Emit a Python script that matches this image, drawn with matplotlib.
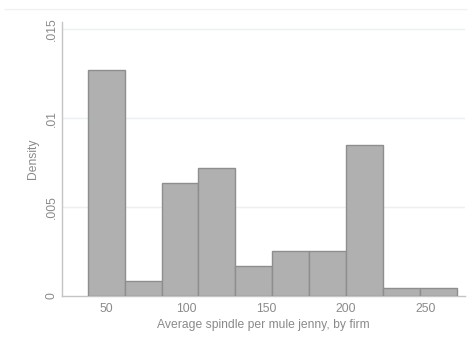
import matplotlib
matplotlib.use('Agg')
import matplotlib.pyplot as plt
import numpy as np

# histogram of firm averages: 10 bins, counts per bin
bin_start = 38.1
bin_width = 23.16
counts = [30, 2, 15, 17, 4, 6, 6, 20, 1, 1]
x_ticks = [50, 100, 150, 200, 250]
y_ticks = [0, 0.005, 0.01, 0.015]
y_tick_labels = ['0', '.005', '.01', '.015']

TEXT = '#8a8a8a'
AXIS = '#c4c4c4'
GRID = '#e9f1f2'

plt.rcParams['font.family'] = ['Liberation Sans', 'DejaVu Sans']

counts = np.array(counts, dtype=float)
density = counts / (counts.sum() * bin_width)
edges = bin_start + bin_width * np.arange(len(counts))

fig = plt.figure(figsize=(4.68, 3.51), dpi=100)
ax = fig.add_axes([0.1325, 0.157, 0.861, 0.78])

ax.bar(edges, density, width=bin_width, align='edge',
       color='#b0b0b0', edgecolor='#8e8e8e', linewidth=1.0, zorder=3)

ax.set_xlim(21.9, 275)
ax.set_ylim(0, 0.0154)
ax.set_xticks(x_ticks)
ax.set_yticks(y_ticks)
ax.set_yticklabels(y_tick_labels, rotation=90, va='center')
for y in y_ticks[1:]:
    ax.axhline(y, color=GRID, linewidth=1.0, zorder=1)

ax.tick_params(length=0, labelsize=8.7, colors=TEXT)
ax.tick_params(axis='x', pad=5)
ax.tick_params(axis='y', pad=3)
for s in ['top', 'right']:
    ax.spines[s].set_visible(False)
for s in ['left', 'bottom']:
    ax.spines[s].set_color(AXIS)
    ax.spines[s].set_linewidth(1.0)

ax.set_xlabel('Average spindle per mule jenny, by firm', fontsize=8.7,
              color=TEXT, labelpad=3)
ax.set_ylabel('Density', fontsize=8.7, color=TEXT, labelpad=5)

# faint outline of the graph region at the top
fig.add_artist(plt.Line2D([0.01, 0.995], [0.974, 0.974], color='#f0f0f0',
                          linewidth=1.0, transform=fig.transFigure))

fig.savefig('out.png', dpi=100)
